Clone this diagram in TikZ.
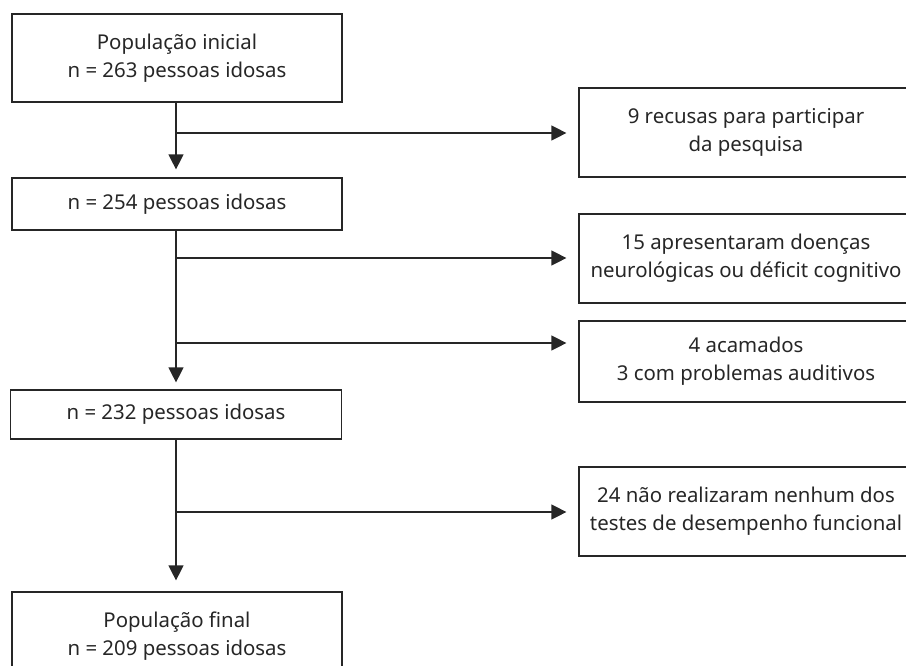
\documentclass[tikz,border=0pt]{standalone}
\usepackage{fontspec}
\setmainfont{Noto Sans}
\usetikzlibrary{arrows.meta}
\begin{document}
\begin{tikzpicture}[x=1pt,y=-1pt,
  box/.style={draw=black!85,line width=1.2pt,align=center,inner sep=0pt,font=\fontsize{20.4}{28}\selectfont,text=black!85},
  conn/.style={line width=1.2pt,draw=black!85},
  arr/.style={conn,-{Triangle[length=15pt,width=15pt]}}]
\useasboundingbox (0,0) rectangle (906,665);
\node[box,minimum width=330,minimum height=88] (b1) at (177,58) {População inicial\\n = 263 pessoas idosas};
\node[box,minimum width=330,minimum height=52] (b2) at (177,204) {n = 254 pessoas idosas};
\node[box,minimum width=331,minimum height=49] (b3) at (176,414.5) {n = 232 pessoas idosas};
\node[box,minimum width=330,minimum height=88] (b4) at (177,636) {População final\\n = 209 pessoas idosas};
\node[box,minimum width=334,minimum height=89] (r1) at (746,132.5) {9 recusas para participar\\da pesquisa};
\node[box,minimum width=334,minimum height=89] (r2) at (746,258.5) {15 apresentaram doenças\\neurológicas ou déficit cognitivo};
\node[box,minimum width=334,minimum height=81] (r3) at (746,361.5) {4 acamados\\3 com problemas auditivos};
\node[box,minimum width=334,minimum height=89] (r4) at (746,511.5) {24 não realizaram nenhum dos\\testes de desempenho funcional};
\coordinate (s1) at (176,133);
\coordinate (s2) at (176,258);
\coordinate (s3) at (176,343);
\coordinate (s4) at (176,512);
\draw[arr,shorten >=8pt] (b1.south -| s1) -- (b2.north -| s1);
\draw[arr,shorten >=7pt] (b2.south -| s1) -- (b3.north -| s1);
\draw[arr,shorten >=11pt] (b3.south -| s1) -- (b4.north -| s1);
\draw[arr,shorten >=12pt] (s1) -- (s1 -| r1.west);
\draw[arr,shorten >=12pt] (s2) -- (s2 -| r2.west);
\draw[arr,shorten >=12pt] (s3) -- (s3 -| r3.west);
\draw[arr,shorten >=12pt] (s4) -- (s4 -| r4.west);
\end{tikzpicture}
\end{document}
